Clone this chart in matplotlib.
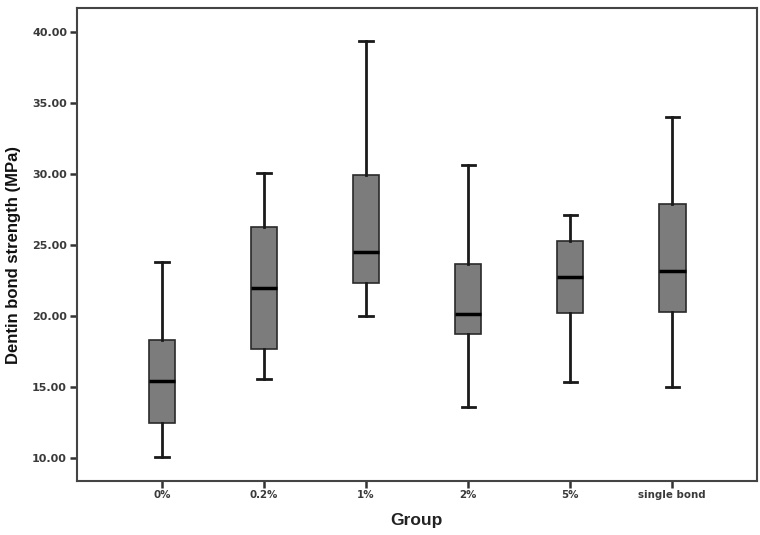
import matplotlib.pyplot as plt

# group labels and box-plot statistics (MPa)
groups = ['0%', '0.2%', '1%', '2%', '5%', 'single bond']
whislo = [10.07, 15.55, 20.02, 13.55, 15.32, 15.01]
q1 = [12.43, 17.67, 22.34, 18.72, 20.23, 20.30]
med = [15.43, 21.95, 24.53, 20.16, 22.76, 23.17]
q3 = [18.28, 26.29, 29.97, 23.66, 25.30, 27.91]
whishi = [23.78, 30.06, 39.41, 30.62, 27.12, 34.05]
yticks = [10, 15, 20, 25, 30, 35, 40]


def main():
  plt.rcParams['font.family'] = ['Liberation Sans', 'DejaVu Sans']

  fig = plt.figure(figsize=(7.6, 5.35), dpi=100)
  ax = fig.add_axes([0.101, 0.1015, 0.895, 0.883])

  stats = []
  for i in range(len(groups)):
    stats.append(dict(label=groups[i], whislo=whislo[i], q1=q1[i], med=med[i],
                      q3=q3[i], whishi=whishi[i], fliers=[]))

  ax.bxp(stats, positions=range(1, len(groups) + 1), widths=0.26,
         showfliers=False, patch_artist=True,
         boxprops=dict(facecolor='#7c7c7c', edgecolor='#2a2a2a', linewidth=1.2),
         medianprops=dict(color='#000000', linewidth=2.5),
         whiskerprops=dict(color='#1a1a1a', linewidth=2.0),
         capprops=dict(color='#1a1a1a', linewidth=2.0), capwidths=0.13)

  ax.set_xlim(0.165, 6.83)
  ax.set_ylim(8.38, 41.69)
  ax.set_yticks(yticks)
  ax.set_yticklabels(['%.2f' % v for v in yticks])
  ax.set_xticks(range(1, len(groups) + 1))
  ax.set_xticklabels(groups)

  for s in ax.spines.values():
    s.set_color('#444444')
    s.set_linewidth(1.5)
  ax.tick_params(axis='both', direction='out', length=5, width=1.8, color='#333333',
                 labelcolor='#3a3a3a', pad=2)
  for lab in ax.get_yticklabels():
    lab.set_family('DejaVu Sans')
    lab.set_fontweight('bold')
    lab.set_fontsize(8)
  for lab in ax.get_xticklabels():
    lab.set_family('DejaVu Sans')
    lab.set_fontweight('bold')
    lab.set_fontsize(7.4)

  ax.set_xlabel('Group', fontsize=12.5, fontweight='bold', color='#222222', labelpad=9)
  ax.set_ylabel('Dentin bond strength (MPa)', fontsize=12, fontweight='bold',
                color='#111111')
  ax.yaxis.set_label_coords(-0.082, 0.478)

  fig.savefig('out.png', dpi=100)


if __name__ == '__main__':
  main()
